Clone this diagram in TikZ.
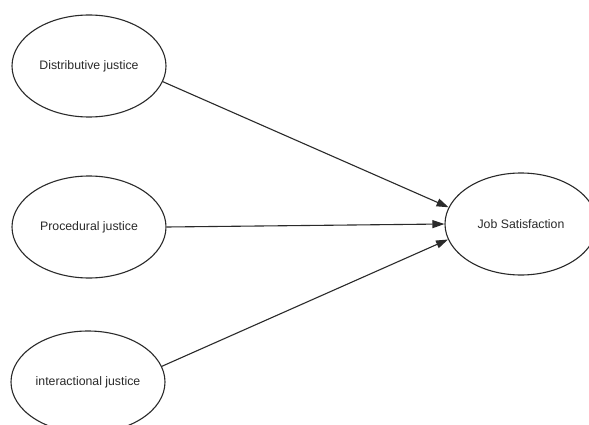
\documentclass[tikz,border=0pt]{standalone}
\usepackage{fontspec}
\setmainfont{Liberation Sans}
\usetikzlibrary{shapes.geometric,arrows.meta}
\definecolor{ink}{HTML}{2A2A2A}
\tikzset{
  construct/.style={ellipse, draw=ink, line width=1.1pt, inner sep=0pt,
    minimum width=154pt, minimum height=102pt, text=ink,
    font=\fontsize{12.3pt}{14pt}\selectfont},
  link/.style={draw=ink, line width=1.1pt, -{Triangle[length=12pt,width=8pt]}}
}
\begin{document}
\begin{tikzpicture}[x=1pt,y=-1pt]
\useasboundingbox (0,0) rectangle (589,425);
\fill[white] (0,0) rectangle (589,425);
\node[construct] (dj) at (89,66) {Distributive justice};
\node[construct] (pj) at (89,227) {Procedural justice};
\node[construct] (ij) at (88,382) {interactional justice};
\node[construct, minimum width=152pt] (js) at (521,224) {Job Satisfaction};
\draw[link] (dj.-12) -- (js.167);
\draw[link] (pj.0) -- (js.180);
\draw[link] (ij.12) -- (js.192);
\end{tikzpicture}
\end{document}
